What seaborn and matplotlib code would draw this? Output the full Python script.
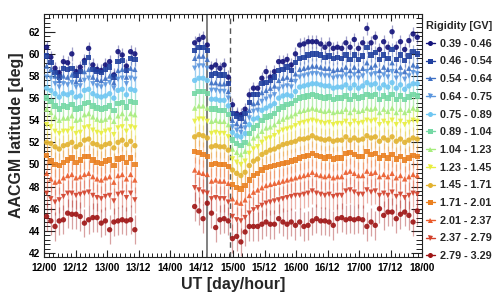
import numpy as np
import pandas as pd
import seaborn as sns
import matplotlib.pyplot as plt
from matplotlib.lines import Line2D
from matplotlib.ticker import MultipleLocator

# rigidity bins [GV], one series each
bins = ['0.39 - 0.46', '0.46 - 0.54', '0.54 - 0.64', '0.64 - 0.75', '0.75 - 0.89',
        '0.89 - 1.04', '1.04 - 1.23', '1.23 - 1.45', '1.45 - 1.71', '1.71 - 2.01',
        '2.01 - 2.37', '2.37 - 2.79', '2.79 - 3.29']
colors = ['#12127a', '#1f3f9e', '#3d6fc4', '#5b96de', '#6ec6f2', '#74d8a4', '#a6ec7c',
          '#e8ee3e', '#e2b22e', '#ea8020', '#ea5a2a', '#d2402a', '#9e1414']
markers = ['o', 's', '^', 'v', 'o', 's', '^', 'v', 'o', 's', '^', 'v', 'o']
errs = [0.6, 0.6, 0.7, 0.8, 0.9, 1.0, 1.0, 1.0, 1.0, 1.1, 1.2, 1.2, 1.3]

# sample times in hours after 12/00 UT (two passes, 1.6 h bins)
hours_a = 1.0 + 1.6 * np.arange(22)
hours_b = 57.4 + 1.6 * np.arange(54)

# cutoff latitude [deg]; first line = pass a, rest = pass b
r039 = [60.6, 59.7, 58.7, 58.3, 59.3, 59.2, 60.0, 58.4, 58.8, 59.4, 60.5, 59.0, 58.6, 58.5, 59.0, 59.3, 58.1, 60.2, 59.9, 58.9, 60.2, 60.0,
        61.0, 61.3, 61.5, 60.8, 58.8, 59.0, 58.7, 59.0, 57.9, 55.4, 54.6, 54.5, 55.0, 56.3, 56.9, 56.9, 57.8, 58.4, 57.9, 58.4,
        59.3, 59.3, 59.5, 59.0, 60.0, 60.8, 60.9, 61.1, 61.1, 61.1, 60.9, 60.6, 60.9, 60.5, 60.6, 60.5, 61.0, 60.6, 61.3, 60.5,
        61.0, 62.3, 61.0, 61.5, 60.4, 61.1, 60.6, 62.0, 60.6, 61.1, 60.4, 61.2, 61.8, 61.5]
r046 = [59.8, 59.2, 58.3, 57.9, 58.7, 58.6, 58.7, 58.1, 58.4, 59.2, 59.7, 58.6, 58.4, 58.3, 58.6, 58.8, 57.9, 59.3, 59.4, 58.5, 59.6, 59.5,
        60.3, 60.6, 60.6, 60.3, 58.1, 58.2, 58.1, 58.1, 57.3, 54.6, 54.4, 54.2, 54.6, 55.6, 56.3, 56.3, 57.3, 57.4, 57.6, 57.9,
        58.5, 58.6, 58.8, 58.5, 59.2, 59.6, 59.7, 59.9, 60.0, 60.0, 59.9, 59.7, 59.8, 59.6, 59.7, 59.6, 59.9, 59.5, 59.9, 59.5,
        59.8, 60.6, 59.9, 60.1, 59.5, 59.9, 59.6, 60.4, 59.5, 59.9, 59.4, 59.8, 60.2, 60.0]
r054 = [58.9, 58.6, 58.0, 57.6, 58.0, 57.9, 58.1, 57.5, 57.7, 58.4, 58.6, 57.9, 57.7, 57.6, 57.8, 58.0, 57.4, 58.5, 58.6, 57.9, 58.7, 58.6,
        59.6, 59.8, 59.8, 59.5, 57.4, 57.4, 57.3, 57.3, 56.6, 54.0, 53.7, 53.5, 53.9, 54.9, 55.5, 55.6, 56.5, 56.7, 56.9, 57.1,
        57.6, 57.8, 57.9, 57.7, 58.2, 58.6, 58.7, 58.8, 58.9, 58.9, 58.8, 58.7, 58.7, 58.5, 58.6, 58.6, 58.8, 58.5, 58.8, 58.5,
        58.7, 59.2, 58.8, 59.0, 58.5, 58.8, 58.6, 59.2, 58.5, 58.8, 58.4, 58.7, 59.0, 58.9]
r064 = [57.9, 57.8, 57.3, 57.0, 57.3, 57.2, 57.4, 57.0, 57.1, 57.6, 57.8, 57.3, 57.1, 57.0, 57.2, 57.4, 56.9, 57.7, 57.8, 57.3, 57.8, 57.7,
        58.7, 58.9, 58.9, 58.7, 56.7, 56.7, 56.6, 56.6, 56.0, 53.4, 53.1, 52.9, 53.3, 54.2, 54.8, 54.9, 55.7, 55.9, 56.1, 56.3,
        56.8, 57.0, 57.1, 57.0, 57.5, 57.9, 58.0, 58.1, 58.2, 58.2, 58.1, 58.0, 58.0, 57.8, 57.9, 57.9, 58.1, 57.8, 58.1, 57.8,
        58.0, 58.4, 58.1, 58.2, 57.8, 58.1, 57.9, 58.4, 57.8, 58.1, 57.7, 58.0, 58.3, 58.2]
r075 = [56.9, 56.7, 56.4, 56.1, 56.4, 56.3, 56.5, 56.1, 56.2, 56.7, 56.8, 56.4, 56.2, 56.1, 56.2, 56.4, 56.0, 56.7, 56.8, 56.3, 56.8, 56.7,
        57.6, 57.8, 57.8, 57.6, 55.9, 55.9, 55.8, 55.8, 55.3, 52.9, 52.6, 52.5, 52.8, 53.6, 54.1, 54.2, 54.9, 55.1, 55.3, 55.5,
        56.0, 56.2, 56.3, 56.2, 56.6, 57.0, 57.1, 57.2, 57.3, 57.3, 57.2, 57.1, 57.1, 56.9, 57.0, 57.0, 57.2, 56.9, 57.2, 56.9,
        57.1, 57.4, 57.2, 57.3, 56.9, 57.2, 57.0, 57.4, 56.9, 57.2, 56.8, 57.1, 57.3, 57.3]
r089 = [56.0, 55.7, 55.3, 55.0, 55.3, 55.2, 55.4, 55.0, 55.1, 55.5, 55.6, 55.3, 55.1, 55.0, 55.1, 55.3, 54.9, 55.5, 55.6, 55.2, 55.7, 55.6,
        56.4, 56.6, 56.6, 56.4, 55.0, 55.0, 54.9, 54.9, 54.5, 52.2, 51.9, 51.7, 52.0, 52.8, 53.3, 53.5, 54.0, 54.3, 54.4, 54.6,
        55.0, 55.2, 55.4, 55.5, 55.8, 56.0, 56.1, 56.2, 56.3, 56.2, 56.1, 56.0, 56.1, 55.9, 56.0, 56.0, 56.2, 55.9, 56.2, 56.0,
        56.1, 56.3, 56.2, 56.3, 55.9, 56.2, 56.0, 56.3, 55.9, 56.2, 55.9, 56.1, 56.3, 56.2]
r104 = [55.0, 54.7, 54.3, 54.0, 54.2, 54.2, 54.4, 54.0, 54.1, 54.5, 54.6, 54.3, 54.1, 54.0, 54.1, 54.3, 53.9, 54.4, 54.6, 54.2, 54.6, 54.5,
        55.1, 55.3, 55.3, 55.1, 53.9, 54.0, 53.9, 53.9, 53.6, 51.4, 51.1, 50.9, 51.2, 51.9, 52.4, 52.6, 53.0, 53.3, 53.4, 53.6,
        53.9, 54.1, 54.3, 54.4, 54.6, 54.8, 54.9, 55.0, 55.1, 55.0, 54.9, 54.8, 54.9, 54.7, 54.8, 54.8, 55.0, 54.7, 55.0, 54.8,
        54.9, 55.1, 55.0, 55.1, 54.7, 55.0, 54.8, 55.1, 54.7, 55.0, 54.7, 54.9, 55.1, 55.0]
r123 = [53.6, 53.4, 53.0, 52.8, 53.0, 53.0, 53.2, 52.8, 52.9, 53.3, 53.4, 53.1, 52.9, 52.8, 53.0, 53.1, 52.7, 53.3, 53.4, 53.0, 53.4, 53.3,
        53.9, 54.1, 54.1, 53.9, 52.8, 52.9, 52.8, 52.8, 52.5, 50.5, 50.2, 50.0, 50.3, 51.0, 51.4, 51.6, 52.0, 52.3, 52.4, 52.6,
        52.9, 53.1, 53.2, 53.3, 53.5, 53.7, 53.8, 53.9, 54.0, 53.9, 53.8, 53.7, 53.8, 53.6, 53.7, 53.7, 53.9, 53.6, 53.9, 53.7,
        53.8, 54.0, 53.9, 54.0, 53.6, 53.9, 53.7, 54.0, 53.6, 53.9, 53.6, 53.8, 54.0, 53.9]
r145 = [52.0, 51.9, 51.6, 51.4, 51.7, 51.8, 52.0, 51.6, 51.8, 52.2, 52.3, 51.9, 51.8, 51.6, 51.8, 51.9, 51.5, 52.0, 52.2, 51.8, 52.1, 51.7,
        52.5, 52.7, 52.6, 52.4, 51.6, 51.7, 51.6, 51.6, 51.3, 49.5, 49.2, 49.0, 49.3, 49.9, 50.3, 50.5, 50.9, 51.1, 51.3, 51.4,
        51.6, 51.8, 51.9, 52.0, 52.1, 52.3, 52.3, 52.4, 52.6, 52.4, 52.3, 52.2, 52.3, 52.1, 52.2, 52.2, 52.5, 52.2, 52.4, 52.2,
        52.3, 52.6, 52.4, 52.5, 52.1, 52.4, 52.2, 52.5, 52.1, 52.3, 52.0, 52.2, 52.4, 52.3]
r171 = [50.8, 50.3, 50.0, 49.9, 50.2, 50.4, 50.6, 50.2, 50.4, 50.7, 50.7, 50.4, 50.2, 50.1, 50.3, 50.4, 49.9, 50.5, 50.6, 50.2, 50.6, 50.0,
        51.2, 51.1, 50.9, 50.7, 50.0, 50.1, 50.0, 50.0, 49.8, 48.2, 47.9, 47.8, 48.1, 48.6, 49.0, 49.2, 49.5, 49.7, 49.8, 49.9,
        50.0, 50.1, 50.2, 50.3, 50.4, 50.6, 50.7, 50.8, 51.0, 50.8, 50.7, 50.6, 50.7, 50.5, 50.6, 50.6, 51.0, 51.1, 50.9, 50.7,
        50.7, 51.2, 50.9, 51.0, 50.6, 50.8, 50.6, 50.9, 50.5, 50.7, 50.4, 50.6, 50.8, 50.7]
r201 = [49.2, 48.7, 48.4, 48.5, 48.8, 49.0, 49.1, 48.8, 48.9, 49.1, 49.2, 48.9, 48.7, 48.6, 48.8, 48.9, 48.4, 49.0, 49.1, 48.7, 49.1, 48.6,
        49.5, 49.3, 49.2, 49.1, 48.5, 48.6, 48.5, 48.5, 48.3, 46.9, 46.6, 46.5, 46.8, 47.2, 47.5, 47.7, 47.9, 48.1, 48.2, 48.3,
        48.4, 48.5, 48.6, 48.7, 48.8, 48.9, 49.0, 49.1, 49.3, 49.1, 49.0, 48.9, 49.0, 48.8, 48.9, 48.9, 49.3, 49.4, 49.2, 49.0,
        49.0, 49.4, 49.2, 49.3, 48.9, 49.1, 48.9, 49.2, 48.8, 49.0, 48.7, 48.9, 49.1, 49.0]
r237 = [47.4, 46.9, 46.6, 46.8, 47.1, 47.4, 47.4, 47.2, 47.3, 47.4, 47.5, 47.2, 47.0, 46.9, 47.1, 47.2, 46.7, 47.3, 47.4, 47.0, 47.4, 46.8,
        47.9, 47.7, 47.5, 47.4, 46.9, 47.0, 46.9, 46.9, 46.6, 45.3, 45.0, 44.9, 45.2, 45.6, 45.9, 46.1, 46.3, 46.5, 46.6, 46.7,
        46.8, 46.9, 47.0, 47.1, 47.2, 47.2, 47.3, 47.4, 47.6, 47.4, 47.3, 47.2, 47.3, 47.1, 47.2, 47.2, 47.6, 47.7, 47.5, 47.3,
        47.3, 47.7, 47.5, 47.6, 47.2, 47.4, 47.2, 47.5, 47.1, 47.3, 47.0, 47.2, 47.4, 47.3]
r279 = [45.3, 44.9, 44.4, 44.9, 45.0, 45.6, 45.5, 45.5, 45.3, 44.7, 45.0, 45.2, 45.2, 44.7, 44.9, 44.1, 44.8, 44.9, 45.0, 44.9, 45.0, 44.1,
        46.2, 45.8, 45.1, 46.5, 45.6, 44.3, 45.0, 45.1, 44.9, 43.3, 43.5, 43.0, 43.9, 44.4, 44.4, 44.4, 44.6, 44.8, 44.6, 44.6,
        45.1, 44.8, 44.6, 44.8, 44.5, 44.8, 44.4, 44.5, 44.9, 45.1, 44.9, 44.9, 44.8, 44.5, 45.1, 45.2, 45.0, 45.1, 45.0, 45.1,
        45.0, 44.4, 44.8, 44.5, 46.0, 45.4, 45.7, 45.7, 45.1, 45.5, 45.7, 45.4, 44.8, 45.8]
lats = [r039, r046, r054, r064, r075, r089, r104, r123, r145, r171, r201, r237, r279]

# markers of the event
t_onset = 62.0
t_ssc = 70.9
day_labels = ['12/00', '12/12', '13/00', '13/12', '14/00', '14/12', '15/00',
              '15/12', '16/00', '16/12', '17/00', '17/12', '18/00']

hours = np.concatenate([hours_a, hours_b])
frames = []
for lab, vals, err in zip(bins, lats, errs):
    frames.append(pd.DataFrame({'hour': hours, 'lat': vals, 'err': err, 'rig': lab}))
df = pd.concat(frames, ignore_index=True)

sns.set_theme(style='ticks')
plt.rcParams['font.family'] = ['Liberation Sans', 'DejaVu Sans']
plt.rcParams['font.weight'] = 'bold'
plt.rcParams['axes.linewidth'] = 0.8

fig = plt.figure(figsize=(5, 2.93), dpi=100)
ax = fig.add_axes([0.088, 0.123, 0.756, 0.829])

for lab, col in zip(bins, colors):
    d = df[df['rig'] == lab]
    ax.errorbar(d['hour'], d['lat'], yerr=d['err'], fmt='none', ecolor=col,
                elinewidth=0.9, alpha=0.4, zorder=1)

sns.scatterplot(data=df, x='hour', y='lat', hue='rig', style='rig',
                palette=dict(zip(bins, colors)), markers=dict(zip(bins, markers)),
                s=15, linewidth=0, alpha=0.9, legend=False, ax=ax, zorder=3)

ax.axvline(t_onset, color='#777777', lw=1.3, zorder=2)
ax.axvline(t_ssc, color='#555555', lw=1.0, ls=(0, (4, 3)), zorder=2)

ax.set_xlim(0, 144)
ax.set_ylim(41.64, 63.6)
ax.set_xticks(np.arange(0, 145, 12))
ax.set_xticklabels(day_labels)
ax.xaxis.set_minor_locator(MultipleLocator(12 / 7))
ax.yaxis.set_major_locator(MultipleLocator(2))
ax.yaxis.set_minor_locator(MultipleLocator(0.4))
ax.tick_params(which='both', direction='in', top=True, right=True, colors='#222222',
               labelsize=7.3, labelcolor='black')
ax.tick_params(axis='x', which='major', length=5.2, width=0.8, pad=4)
ax.tick_params(axis='x', which='minor', length=2.6, width=0.7)
ax.tick_params(axis='y', which='major', length=8, width=0.8, pad=3)
ax.tick_params(axis='y', which='minor', length=4, width=0.7)
for sp in ax.spines.values():
    sp.set_color('#222222')

ax.set_xlabel('UT [day/hour]', fontsize=11.5, fontweight='bold', labelpad=3)
ax.set_ylabel('AACGM latitude [deg]', fontsize=11.5, fontweight='bold', labelpad=3)

handles = [Line2D([0], [0], color=c, marker=m, markersize=3.6, lw=1.0, markeredgewidth=0)
           for c, m in zip(colors, markers)]
leg = fig.legend(handles, bins, loc='upper left', bbox_to_anchor=(0.852, 0.928),
                 frameon=False, title='Rigidity [GV]', alignment='left',
                 prop={'size': 7.8, 'weight': 'bold'},
                 title_fontproperties={'size': 7.8, 'weight': 'bold'},
                 handlelength=0.8, handletextpad=0.5, labelspacing=0.71, borderpad=0,
                 borderaxespad=0)

fig.savefig('out.png', dpi=100)
